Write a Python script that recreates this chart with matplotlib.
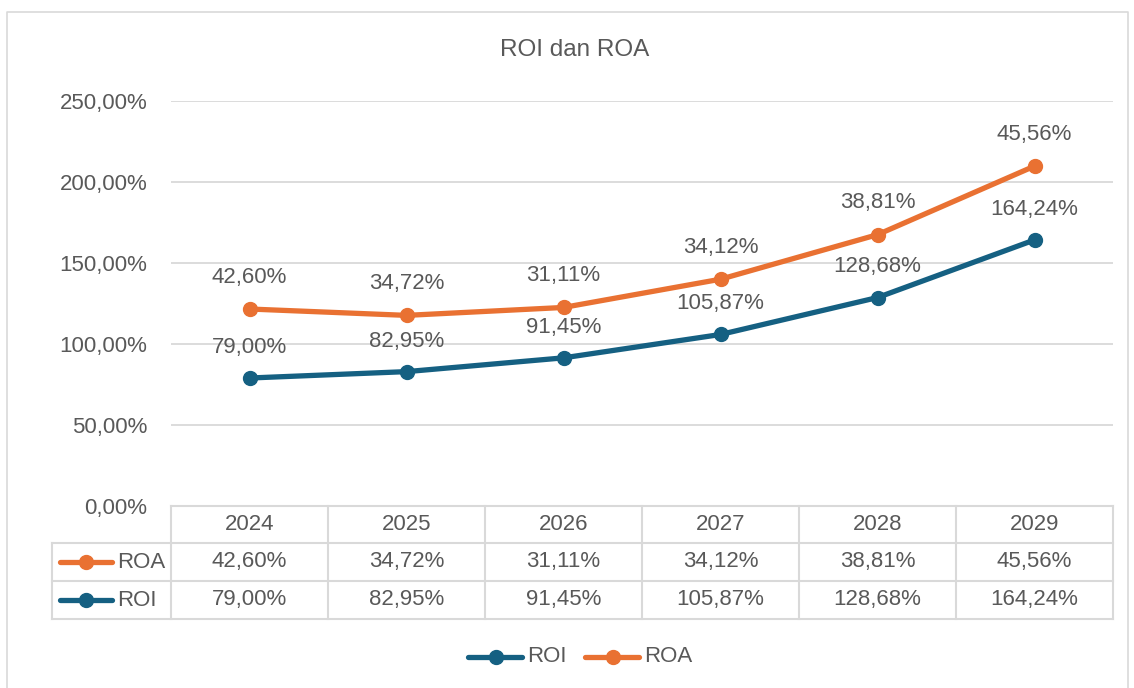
import matplotlib.pyplot as plt
from matplotlib.lines import Line2D

years = ['2024', '2025', '2026', '2027', '2028', '2029']
roi = [79.00, 82.95, 91.45, 105.87, 128.68, 164.24]
roa = [42.60, 34.72, 31.11, 34.12, 38.81, 45.56]
yticks = [0, 50, 100, 150, 200, 250]

c_roi = '#156082'
c_roa = '#E97132'
c_txt = '#595959'
c_grid = '#D9D9D9'
fs = 16

def pct(v):
    return ('%.2f%%' % v).replace('.', ',')

plt.rcParams['font.family'] = ['Liberation Sans', 'DejaVu Sans']

W, H = 1134, 688
fig = plt.figure(figsize=(W / 100, H / 100), dpi=100)

def fx(px):
    return px / W

def fy(py):
    return 1 - py / H

# axes: plot area from pixel coords
ax = fig.add_axes([fx(171), fy(506), fx(1113) - fx(171), fy(101) - fy(506)])

x = list(range(len(years)))
# stacked line chart: ROA sits on top of ROI
roa_stack = [a + b for a, b in zip(roi, roa)]

ax.plot(x, roi, color=c_roi, lw=3.8, marker='o', ms=10, solid_capstyle='round', zorder=3)
ax.plot(x, roa_stack, color=c_roa, lw=3.8, marker='o', ms=10, solid_capstyle='round', zorder=3)

for i in x:
    ax.annotate(pct(roi[i]), (i, roi[i]), xytext=(0, 22), textcoords='offset points',
                ha='center', va='center', fontsize=fs, color=c_txt)
    ax.annotate(pct(roa[i]), (i, roa_stack[i]), xytext=(0, 23), textcoords='offset points',
                ha='center', va='center', fontsize=fs, color=c_txt)

ax.set_xlim(-0.5, len(years) - 0.5)
ax.set_ylim(0, 250)
ax.set_yticks(yticks)
ax.set_yticklabels([pct(v) for v in yticks])
ax.tick_params(axis='y', length=0, pad=17, labelsize=fs, labelcolor=c_txt)
ax.tick_params(axis='x', length=0, labelbottom=False)
ax.grid(axis='y', color=c_grid, lw=1.3)
ax.set_axisbelow(True)
for s in ax.spines.values():
    s.set_visible(False)

fig.text(fx(575), fy(50), 'ROI dan ROA', ha='center', va='center', fontsize=17.5, color=c_txt)

# data table below the axes
col_x = [171 + i * 157 for i in range(len(years) + 1)]
col_x[-1] = 1113
rows_y = [506, 543, 581, 619]
lk = dict(color=c_grid, lw=1.5)
fig.add_artist(Line2D([fx(171), fx(1113)], [fy(506), fy(506)], **lk))
for yy in rows_y[1:]:
    fig.add_artist(Line2D([fx(52), fx(1113)], [fy(yy), fy(yy)], **lk))
for xx in col_x:
    fig.add_artist(Line2D([fx(xx), fx(xx)], [fy(506), fy(619)], **lk))
fig.add_artist(Line2D([fx(52), fx(52)], [fy(543), fy(619)], **lk))

for i, yr in enumerate(years):
    cx = (col_x[i] + col_x[i + 1]) / 2
    fig.text(fx(cx), fy(524.5), yr, ha='center', va='center', fontsize=fs, color=c_txt)
    fig.text(fx(cx), fy(562), pct(roa[i]), ha='center', va='center', fontsize=fs, color=c_txt)
    fig.text(fx(cx), fy(600), pct(roi[i]), ha='center', va='center', fontsize=fs, color=c_txt)

for name, col, yy in [('ROA', c_roa, 562), ('ROI', c_roi, 600)]:
    fig.add_artist(Line2D([fx(60), fx(112)], [fy(yy), fy(yy)], color=col, lw=3.8,
                          solid_capstyle='round'))
    fig.add_artist(Line2D([fx(86)], [fy(yy)], color=col, marker='o', ms=10))
    fig.text(fx(117), fy(yy), name, ha='left', va='center', fontsize=fs, color=c_txt)

# bottom legend
for name, col, x0 in [('ROI', c_roi, 468), ('ROA', c_roa, 585)]:
    fig.add_artist(Line2D([fx(x0), fx(x0 + 54)], [fy(657), fy(657)], color=col, lw=3.8,
                          solid_capstyle='round'))
    fig.add_artist(Line2D([fx(x0 + 28)], [fy(657)], color=col, marker='o', ms=10))
    fig.text(fx(x0 + 59), fy(657), name, ha='left', va='center', fontsize=fs, color=c_txt)

# chart border
fig.add_artist(Line2D([fx(7), fx(7), fx(1128), fx(1128)], [0, fy(12), fy(12), 0],
                      color=c_grid, lw=1.2))

fig.savefig('out.png', dpi=100)
